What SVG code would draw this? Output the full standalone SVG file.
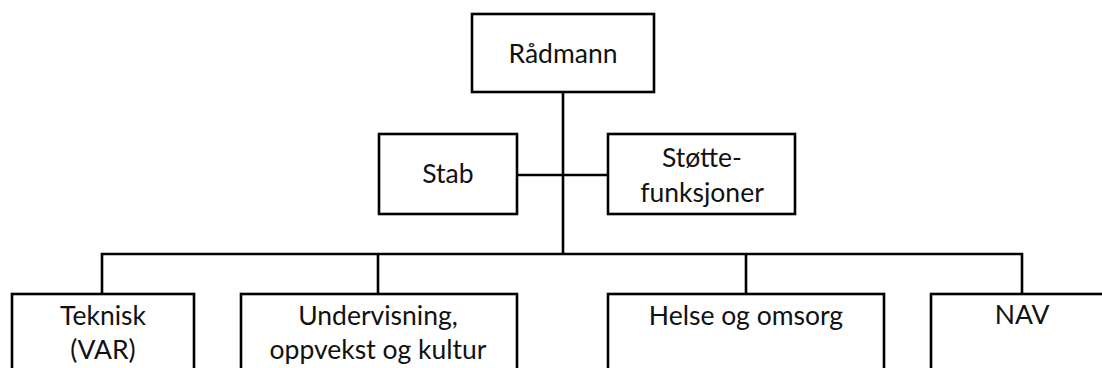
<svg xmlns="http://www.w3.org/2000/svg" width="1102" height="368" viewBox="0 0 1102 368">
<style>
.box{fill:#fff;stroke:#000;stroke-width:2.6}
.ln{fill:none;stroke:#000;stroke-width:2.6}
text{font-family:Lato,"Open Sans",sans-serif;font-size:26.5px;fill:#111;text-anchor:middle}
</style>
<rect width="1102" height="368" fill="#fff"/>
<g id="connectors">
<path class="ln" d="M563 92V254"/>
<path class="ln" d="M517 175H608"/>
<path class="ln" d="M102 294V254H1022V294"/>
<path class="ln" d="M378 254V294"/>
<path class="ln" d="M746 254V294"/>
</g>
<g id="radmann"><rect class="box" x="472" y="14" width="182" height="78"/><text x="563" y="63">Rådmann</text></g>
<g id="stab"><rect class="box" x="379" y="134" width="138" height="80"/><text x="448" y="183">Stab</text></g>
<g id="stottefunksjoner"><rect class="box" x="608" y="134" width="187" height="80"/><text x="702" y="167">Støtte-</text><text x="702" y="202">funksjoner</text></g>
<g id="teknisk"><rect class="box" x="12" y="294" width="182" height="90"/><text x="103" y="325">Teknisk</text><text x="103" y="359">(VAR)</text></g>
<g id="undervisning"><rect class="box" x="241" y="294" width="276" height="90"/><text x="378" y="325">Undervisning,</text><text x="378" y="359">oppvekst og kultur</text></g>
<g id="helse"><rect class="box" x="608" y="294" width="276" height="90"/><text x="746" y="325">Helse og omsorg</text></g>
<g id="nav"><rect class="box" x="931" y="294" width="200" height="90"/><text x="1022" y="324">NAV</text></g>
</svg>
